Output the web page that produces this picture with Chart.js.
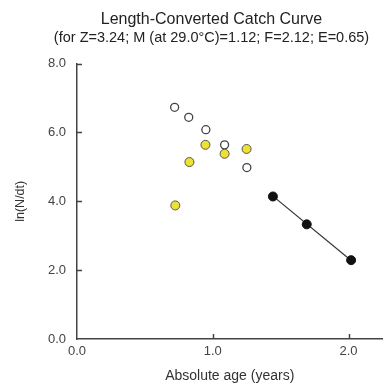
<!DOCTYPE html>
<html>
<head>
<meta charset="utf-8">
<script src="https://cdn.jsdelivr.net/npm/chart.js@4/dist/chart.umd.min.js"></script>
<style>
  html, body { margin: 0; padding: 0; background: #fff; }
  #wrap { width: 388px; height: 385px; }
</style>
</head>
<body>
<div id="wrap"><canvas id="chartCatch"></canvas></div>
<script>
// ages (years) and ln(N/dt)
const openAge = [0.719, 0.823, 0.949, 1.087, 1.251];
const openLn = [6.73, 6.44, 6.08, 5.64, 4.98];

const yellowAge = [0.724, 0.828, 0.946, 1.087, 1.249];
const yellowLn = [3.88, 5.14, 5.64, 5.38, 5.52];

const usedAge = [1.443, 1.692, 2.019];
const usedLn = [4.14, 3.33, 2.29];

// regression line endpoints (slope = -Z)
const fitAge = [1.443, 2.019];
const fitLn = [4.15, 2.28];

const xTicks = [0, 1, 2];
const yTicks = [0, 2, 4, 6, 8];

const pts = (xs, ys) => xs.map((x, i) => ({ x: x, y: ys[i] }));

// short tick marks pointing into the plot
const innerTicks = {
    id: 'innerTicks',
    afterDraw(chart) {
        const { ctx, scales: { x, y } } = chart;
        ctx.save();
        ctx.strokeStyle = '#444';
        ctx.lineWidth = 1.5;
        ctx.beginPath();
        yTicks.filter(v => v > 0).forEach(v => {
            const py = Math.round(y.getPixelForValue(v)) + 0.5;
            ctx.moveTo(x.left, py);
            ctx.lineTo(x.left + 5, py);
        });
        xTicks.filter(v => v > 0).forEach(v => {
            const px = Math.round(x.getPixelForValue(v)) + 0.5;
            ctx.moveTo(px, y.bottom);
            ctx.lineTo(px, y.bottom - 5);
        });
        ctx.stroke();
        ctx.restore();
    }
};

const font = 'Arial, "Liberation Sans", sans-serif';

new Chart(document.getElementById('chartCatch'), {
    type: 'scatter',
    data: {
        datasets: [
            {
                label: 'fit',
                data: pts(fitAge, fitLn),
                showLine: true,
                borderColor: '#333',
                borderWidth: 1.2,
                pointRadius: 0,
                order: 4
            },
            {
                label: 'used',
                data: pts(usedAge, usedLn),
                backgroundColor: '#111',
                borderColor: '#111',
                borderWidth: 1,
                pointRadius: 4.5,
                order: 3
            },
            {
                label: 'open',
                data: pts(openAge, openLn),
                backgroundColor: '#fff',
                borderColor: '#444',
                borderWidth: 1.3,
                pointRadius: 4,
                order: 2
            },
            {
                label: 'yellow',
                data: pts(yellowAge, yellowLn),
                backgroundColor: '#efe034',
                borderColor: '#555',
                borderWidth: 1,
                pointRadius: 4.5,
                order: 1
            }
        ]
    },
    options: {
        responsive: true,
        maintainAspectRatio: false,
        animation: false,
        // left padding moves the title block's centre to the right, like the original
        layout: { padding: { left: 36, right: 1, top: 0, bottom: 0 } },
        plugins: {
            legend: { display: false },
            tooltip: { enabled: false },
            title: {
                display: true,
                text: 'Length-Converted Catch Curve',
                color: '#222',
                font: { family: font, size: 16, weight: 'normal' },
                padding: { top: 10, bottom: 0 }
            },
            subtitle: {
                display: true,
                text: '(for Z=3.24; M (at 29.0\u00B0C)=1.12; F=2.12; E=0.65)',
                color: '#222',
                font: { family: font, size: 14.5 },
                padding: { top: 0, bottom: 17 }
            }
        },
        scales: {
            x: {
                type: 'linear',
                min: 0,
                max: 2.25,
                afterFit: s => { s.height = 46; },
                border: { display: true, color: '#444', width: 1.5 },
                grid: { display: false, drawTicks: false },
                ticks: {
                    stepSize: 1,
                    includeBounds: false,
                    padding: 5,
                    color: '#444',
                    font: { family: font, size: 13 },
                    callback: v => v.toFixed(1)
                },
                title: {
                    display: true,
                    text: 'Absolute age (years)',
                    color: '#333',
                    font: { family: font, size: 14 },
                    padding: { top: 0, bottom: 0 }
                }
            },
            y: {
                type: 'linear',
                min: 0,
                max: 8,
                afterFit: s => { s.width = 41; },
                border: { display: true, color: '#444', width: 1.5 },
                grid: { display: false, drawTicks: false },
                ticks: {
                    stepSize: 2,
                    padding: 11,
                    color: '#444',
                    font: { family: font, size: 13 },
                    callback: v => v.toFixed(1)
                },
                title: {
                    display: true,
                    text: 'ln(N/dt)',
                    color: '#333',
                    font: { family: font, size: 12.5 },
                    padding: { top: -22.5, bottom: 0 }
                }
            }
        }
    },
    plugins: [innerTicks]
});
</script>
</body>
</html>
